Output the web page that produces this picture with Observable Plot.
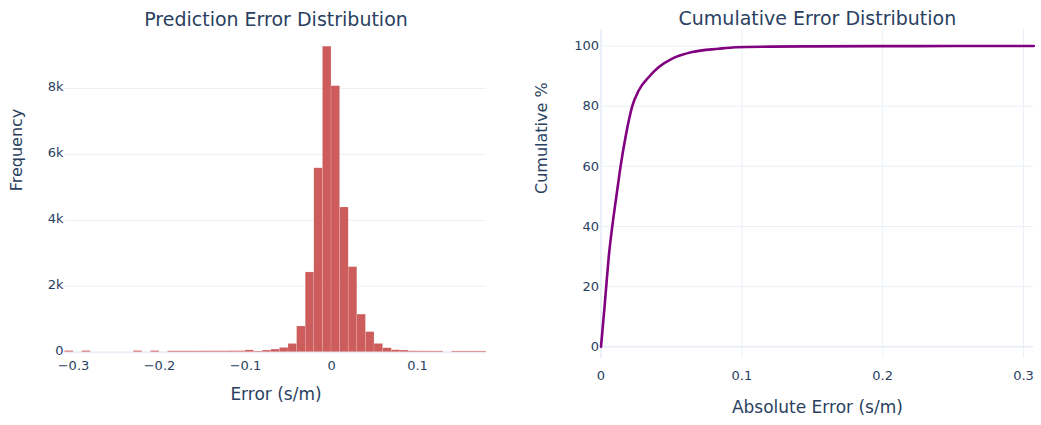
<!DOCTYPE html>
<html>
<head>
<meta charset="utf-8">
<script src="https://cdn.jsdelivr.net/npm/d3@7"></script>
<script src="https://cdn.jsdelivr.net/npm/@observablehq/plot@0.6"></script>
<style>
  html, body { margin: 0; padding: 0; background: #fff; width: 1041px; height: 425px; overflow: hidden; }
  #wrap { position: relative; width: 1041px; height: 425px; }
  .panel { position: absolute; top: 0; }
  .panel svg { overflow: visible; }
</style>
</head>
<body>
<div id="wrap">
  <div class="panel" id="left" style="left:0px"></div>
  <div class="panel" id="right" style="left:520px"></div>
</div>
<script>
// ---- Histogram data (Prediction Error Distribution) ----
const binStart = [-0.31, -0.30, -0.29, -0.28, -0.27, -0.26, -0.25, -0.24, -0.23, -0.22,
                  -0.21, -0.20, -0.19, -0.18, -0.17, -0.16, -0.15, -0.14, -0.13, -0.12,
                  -0.11, -0.10, -0.09, -0.08, -0.07, -0.06, -0.05, -0.04, -0.03, -0.02,
                  -0.01, 0.00, 0.01, 0.02, 0.03, 0.04, 0.05, 0.06, 0.07, 0.08,
                  0.09, 0.10, 0.11, 0.12, 0.13, 0.14, 0.15, 0.16, 0.17];
const binCount = [35, 0, 35, 0, 0, 0, 0, 0, 35, 0,
                  35, 0, 28, 28, 28, 28, 30, 30, 30, 32,
                  32, 55, 20, 50, 80, 130, 250, 780, 2420, 5580,
                  9270, 8070, 4390, 2580, 1140, 610, 250, 120, 60, 50,
                  28, 26, 26, 24, 0, 24, 24, 24, 24];
const binWidth = 0.01;
const histXTicks = [-0.3, -0.2, -0.1, 0, 0.1];
const histYTicks = [0, 2000, 4000, 6000, 8000];
const histYTickLabels = ["0", "2k", "4k", "6k", "8k"];

// ---- Cumulative data (Cumulative Error Distribution) ----
const absError = [0, 0.0025, 0.0037, 0.0055, 0.008, 0.0115, 0.0139, 0.0174, 0.0222, 0.0269,
                  0.034, 0.0411, 0.0506, 0.0648, 0.0835, 0.0956, 0.12, 0.15, 0.2, 0.25, 0.3073];
const cumPct   = [0, 13.2, 20, 29.9, 40, 52, 60, 69.7, 80, 85.3,
                  89.7, 93, 95.8, 98, 99.1, 99.6, 99.8, 99.9, 99.96, 99.99, 100];
const cumXTicks = [0, 0.1, 0.2, 0.3];
const cumYTicks = [0, 20, 40, 60, 80, 100];

const FONT = "'DejaVu Sans', Verdana, sans-serif";
const INK = "#2a3f5f";
const GRID = "#EBF0F8";
const TICK_FS = 13, AXT_FS_H = 17, AXT_FS_V = 16, TITLE_FS = 19;

const bins = binStart.map((s, i) => ({x1: s, x2: s + binWidth, count: binCount[i]}));
const cum = absError.map((e, i) => ({e, p: cumPct[i]}));

const fmt1 = d3.format(".1f");
const xfmt = d => d === 0 ? "0" : fmt1(d);

const left = Plot.plot({
  width: 520, height: 425,
  marginLeft: 65, marginRight: 34, marginTop: 30, marginBottom: 73.3,
  style: {fontFamily: FONT, fontSize: "13px", color: INK, background: "transparent"},
  x: {domain: [-0.3093, 0.1802]},
  y: {domain: [0, 9760]},
  marks: [
    Plot.gridY(histYTicks.filter(d => d !== 0), {stroke: GRID, strokeOpacity: 1, strokeWidth: 1}),
    Plot.ruleY([0], {stroke: GRID, strokeWidth: 2}),
    Plot.rectY(bins, {x1: "x1", x2: "x2", y: "count", fill: "indianred", stroke: "white", strokeOpacity: 0.3, strokeWidth: 0.5}),
    Plot.axisX(histXTicks, {tickSize: 0, tickPadding: 8.5, tickFormat: xfmt, label: null, fontSize: TICK_FS, fill: INK}),
    Plot.axisY(histYTicks, {tickSize: 0, tickPadding: 2, dy: -1.5, tickFormat: d => histYTickLabels[histYTicks.indexOf(d)], label: null, fontSize: TICK_FS, fill: INK}),
    Plot.text(["Error (s/m)"], {text: d => d, frameAnchor: "bottom", lineAnchor: "bottom", dy: 48, fontSize: AXT_FS_H, fill: INK}),
    Plot.text(["Frequency"], {text: d => d, frameAnchor: "left", lineAnchor: "top", rotate: -90, dx: -55, fontSize: AXT_FS_V, fill: INK}),
    Plot.text(["Prediction Error Distribution"], {text: d => d, frameAnchor: "top", lineAnchor: "bottom", dy: -5, fontSize: TITLE_FS, fill: INK})
  ]
});
document.getElementById("left").appendChild(left);

const right = Plot.plot({
  width: 521, height: 425,
  marginLeft: 80.5, marginRight: 7.7, marginTop: 29, marginBottom: 67,
  style: {fontFamily: FONT, fontSize: "13px", color: INK, background: "transparent"},
  x: {domain: [0, 0.3073]},
  y: {domain: [-3.9, 105.5]},
  marks: [
    Plot.gridX(cumXTicks.filter(d => d !== 0), {stroke: GRID, strokeOpacity: 1, strokeWidth: 1}),
    Plot.gridY(cumYTicks.filter(d => d !== 0), {stroke: GRID, strokeOpacity: 1, strokeWidth: 1}),
    Plot.ruleY([0], {stroke: GRID, strokeWidth: 2}),
    Plot.ruleX([0], {stroke: GRID, strokeWidth: 2}),
    Plot.line(cum, {x: "e", y: "p", stroke: "purple", strokeWidth: 2.6, curve: "monotone-x"}),
    Plot.axisX(cumXTicks, {tickSize: 0, tickPadding: 12.6, tickFormat: xfmt, label: null, fontSize: TICK_FS, fill: INK}),
    Plot.axisY(cumYTicks, {tickSize: 0, tickPadding: 2, label: null, fontSize: TICK_FS, fill: INK}),
    Plot.text(["Absolute Error (s/m)"], {text: d => d, frameAnchor: "bottom", lineAnchor: "bottom", dy: 54, fontSize: AXT_FS_H, fill: INK}),
    Plot.text(["Cumulative %"], {text: d => d, frameAnchor: "left", lineAnchor: "top", rotate: -90, dx: -65.5, fontSize: AXT_FS_V, fill: INK}),
    Plot.text(["Cumulative Error Distribution"], {text: d => d, frameAnchor: "top", lineAnchor: "bottom", dy: -5, fontSize: TITLE_FS, fill: INK})
  ]
});
document.getElementById("right").appendChild(right);
</script>
</body>
</html>
